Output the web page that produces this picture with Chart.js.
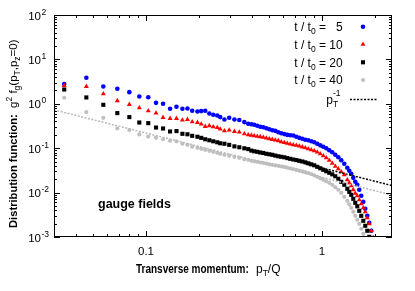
<!DOCTYPE html>
<html>
<head>
<meta charset="utf-8">
<script src="https://cdn.jsdelivr.net/npm/chart.js@4.4.1/dist/chart.umd.min.js"></script>
<style>
  html, body { margin: 0; padding: 0; background: #fff; }
  #wrap { width: 415px; height: 291px; }
</style>
</head>
<body>
<div id="wrap"><canvas id="dist-chart" width="415" height="291"></canvas></div>
<script>
// transverse momentum p_T/Q of the data points
const pT = [0.0343, 0.0458, 0.0572, 0.0687, 0.0804, 0.0916, 0.103, 0.114, 0.125, 0.137,
  0.149, 0.161, 0.172, 0.183, 0.196, 0.206, 0.217, 0.229, 0.241, 0.254,
  0.264, 0.279, 0.297, 0.318, 0.339, 0.362, 0.381,
  0.397, 0.412, 0.429, 0.446, 0.464, 0.483, 0.502, 0.522, 0.543, 0.565,
  0.587, 0.611, 0.635, 0.660, 0.687, 0.715, 0.743, 0.773, 0.804, 0.836,
  0.869, 0.904, 0.940, 0.978, 1.017, 1.058, 1.100, 1.144, 1.190, 1.238,
  1.287, 1.339, 1.393, 1.429, 1.467, 1.506, 1.546, 1.587, 1.629, 1.672,
  1.717, 1.762, 1.809, 1.857, 1.906, 1.956];

// g^2 f_g at t/t0 = 5, 10, 20, 40
const f5 = [2.78, 3.85, 2.45, 2.18, 1.83, 1.46, 1.40, 1.05, 1.00, 0.772,
  0.856, 0.772, 0.784, 0.696, 0.671, 0.685, 0.696, 0.605, 0.565, 0.545,
  0.502, 0.443, 0.484, 0.443, 0.430, 0.387, 0.354,
  0.345, 0.337, 0.320, 0.303, 0.296, 0.281, 0.267, 0.253, 0.246, 0.228,
  0.217, 0.208, 0.200, 0.195, 0.193, 0.181, 0.171, 0.163, 0.155, 0.151,
  0.143, 0.136, 0.126, 0.116, 0.108, 0.0995, 0.0897, 0.0809, 0.0710, 0.0624,
  0.0534, 0.0445, 0.0362, 0.0310, 0.0265, 0.0215, 0.0175, 0.0150, 0.0116, 0.00847,
  0.00621, 0.00432, 0.00300, 0.00209, 0.00138, 0.00096];

const f10 = [2.58, 2.45, 1.68, 1.17, 0.964, 0.813, 0.696, 0.617, 0.491, 0.467,
  0.467, 0.430, 0.443, 0.393, 0.379, 0.349, 0.308, 0.320, 0.303, 0.292,
  0.269, 0.246, 0.256, 0.238, 0.230, 0.211, 0.200,
  0.195, 0.190, 0.185, 0.181, 0.176, 0.169, 0.163, 0.157, 0.152, 0.147,
  0.139, 0.134, 0.129, 0.124, 0.119, 0.116, 0.1115, 0.1064, 0.102, 0.0969,
  0.0920, 0.0874, 0.0817, 0.0748, 0.0674, 0.0608, 0.0534, 0.0457, 0.0391, 0.0344,
  0.0294, 0.0252, 0.0194, 0.0166, 0.0142, 0.0116, 0.00964, 0.00847, 0.00689, 0.00560,
  0.00455, 0.00369, 0.00271, 0.00198, 0.00138, 0.00096];

const f20 = [2.10, 1.39, 0.949, 0.617, 0.502, 0.379, 0.367, 0.292, 0.278, 0.238,
  0.243, 0.211, 0.206, 0.190, 0.181, 0.171, 0.159, 0.151, 0.143, 0.136,
  0.129, 0.126, 0.119, 0.110, 0.105, 0.0995, 0.0954,
  0.0883, 0.0852, 0.0830, 0.0800, 0.0780, 0.0748, 0.0729, 0.0710, 0.0681, 0.0657,
  0.0640, 0.0624, 0.0598, 0.0577, 0.0556, 0.0540, 0.0520, 0.0502, 0.0481, 0.0457,
  0.0434, 0.0412, 0.0381, 0.0353, 0.0326, 0.0302, 0.0279, 0.0258, 0.0233, 0.0205,
  0.0175, 0.0150, 0.0122, 0.0104, 0.00892, 0.00725, 0.00589, 0.00491, 0.00389, 0.00300,
  0.00232, 0.00179, 0.00138, 0.00101, null, null];

const f40 = [1.37, 0.650, 0.484, 0.278, 0.256, 0.204, 0.183, 0.171, 0.159, 0.147,
  0.143, 0.126, 0.119, 0.108, 0.102, 0.0969, 0.0920, 0.0874, 0.0830, 0.0788,
  0.0748, 0.0710, 0.0674, 0.0640, 0.0608, 0.0562, 0.0548,
  0.0520, 0.0507, 0.0494, 0.0476, 0.0464, 0.0450, 0.0434, 0.0423, 0.0412, 0.0401,
  0.0391, 0.0381, 0.0367, 0.0353, 0.0340, 0.0326, 0.0315, 0.0302, 0.0289, 0.0275,
  0.0261, 0.0245, 0.0227, 0.0210, 0.0194, 0.0180, 0.0166, 0.0150, 0.0132, 0.0116,
  0.00990, 0.00804, 0.00654, 0.00545, 0.00455, 0.00369, 0.00300, 0.00244, 0.00198, 0.00153,
  0.00118, null, null, null, null, null];

// p_T^-1 guide lines (end points)
const guideGrayX = [0.03, 2.5];
const guideGrayY = [0.73, 0.0088];
const guideBlackX = [0.8, 2.5];
const guideBlackY = [0.045, 0.0144];

// axes
const xMajor = [0.1, 1];
const xLabels = ['0.1', '1'];
const xMinor = [0.03, 0.04, 0.05, 0.06, 0.07, 0.08, 0.09, 0.2, 0.3, 0.4, 0.5, 0.6, 0.7, 0.8, 0.9, 2];
const yMajor = [0.001, 0.01, 0.1, 1, 10, 100];
const yExp = ['-3', '-2', '-1', '0', '1', '2'];
const yMinor = [];
[0.001, 0.01, 0.1, 1, 10].forEach(d => [2, 3, 4, 5, 6, 7, 8, 9].forEach(m => yMinor.push(d * m)));

const legendVals = ['5', '10', '20', '40'];
const colors = ['#0000ff', '#ff0000', '#000000', '#c0c0c0'];
const styles = ['circle', 'triangle', 'rect', 'circle'];
const radii = [2.3, 2.9, 2.9, 2.1];

const FF = '"Liberation Sans", Arial, Helvetica, sans-serif';

function toPoints(xs, ys) {
  return xs.map((x, i) => ({ x: x, y: ys[i] }));
}

// draws a list of [text, size, bold, dy] pieces starting at x
function richText(ctx, parts, x, y, align, sx) {
  let w = 0;
  parts.forEach(p => {
    ctx.font = (p[2] ? 'bold ' : '') + p[1] + 'px ' + FF;
    p.w = ctx.measureText(p[0]).width;
    w += p.w;
  });
  ctx.save();
  ctx.translate(x, y);
  ctx.scale(sx || 1, 1);
  let cx = align === 'right' ? -w : align === 'center' ? -w / 2 : 0;
  parts.forEach(p => {
    ctx.font = (p[2] ? 'bold ' : '') + p[1] + 'px ' + FF;
    ctx.fillText(p[0], cx, p[3] || 0);
    cx += p.w;
  });
  ctx.restore();
  return w;
}

const gnuplotLook = {
  id: 'gnuplotLook',
  afterDraw(chart) {
    const { ctx, chartArea: a, scales } = chart;
    const xs = scales.x, ys = scales.y;
    ctx.save();
    ctx.strokeStyle = '#000';
    ctx.fillStyle = '#000';
    ctx.lineWidth = 1;
    ctx.setLineDash([]);

    // frame
    ctx.strokeRect(a.left + 0.5, a.top + 0.5, a.right - a.left - 1, a.bottom - a.top - 1);

    // inward ticks on all four sides
    ctx.beginPath();
    xs.ticks.forEach(t => {
      const px = Math.round(xs.getPixelForValue(t.value)) + 0.5;
      const len = xMajor.includes(t.value) ? 6 : 3;
      ctx.moveTo(px, a.bottom); ctx.lineTo(px, a.bottom - len);
      ctx.moveTo(px, a.top); ctx.lineTo(px, a.top + len);
    });
    ys.ticks.forEach(t => {
      const py = Math.round(ys.getPixelForValue(t.value)) + 0.5;
      const len = yMajor.includes(t.value) ? 6 : 3;
      ctx.moveTo(a.left, py); ctx.lineTo(a.left + len, py);
      ctx.moveTo(a.right, py); ctx.lineTo(a.right - len, py);
    });
    ctx.stroke();

    // tick labels
    ctx.textBaseline = 'alphabetic';
    ctx.textAlign = 'left';
    yMajor.forEach((v, i) => {
      const py = ys.getPixelForValue(v);
      richText(ctx, [['10', 11.5, false, 0]], 41, py + 4.5, 'right');
      richText(ctx, [[yExp[i], 8.5, false, 0]], 41.5, py - 0.5, 'left');
    });
    xMajor.forEach((v, i) => {
      const px = xs.getPixelForValue(v);
      richText(ctx, [[xLabels[i], 11.5, false, 0]], px, 254.5, 'center');
    });

    // axis titles
    richText(ctx, [['Transverse momentum:', 12.5, true, 0]], 136, 273, 'left', 0.8);
    richText(ctx, [['p', 12, false, 0], ['T', 8.5, false, 3], ['/Q', 12, false, 0]], 256, 273, 'left');

    ctx.save();
    ctx.translate(17, 228);
    ctx.rotate(-Math.PI / 2);
    richText(ctx, [['Distribution function:', 11.2, true, 0], ['  g', 11.5, false, 0], ['2', 8.5, false, -5],
      [' f', 11.5, false, 0], ['g', 8.5, false, 3], ['(p', 11.5, false, 0], ['T', 8.5, false, 3],
      [',p', 11.5, false, 0], ['z', 8.5, false, 3], ['=0)', 11.5, false, 0]], 0, 0, 'left');
    ctx.restore();

    // annotation
    richText(ctx, [['gauge fields', 12.5, true, 0]], 98, 208, 'left');

    // legend
    const rows = [26.7, 44.3, 62.3, 80];
    ctx.font = '12px ' + FF;
    const numW = ctx.measureText('10').width;
    legendVals.forEach((v, i) => {
      const yb = rows[i] + 4.3;
      richText(ctx, [['t / t', 12, false, 0], ['0', 8.5, false, 3], [' = ', 12, false, 0]], 342.7 - numW, yb, 'right');
      richText(ctx, [[v, 12, false, 0]], 342.7, yb, 'right');
      ctx.fillStyle = colors[i];
      Chart.helpers.drawPoint(ctx, { pointStyle: styles[i], radius: radii[i], rotation: 0, borderWidth: 0 }, 363, rows[i]);
      ctx.fillStyle = '#000';
    });
    richText(ctx, [['p', 12, false, 0]], 333, 104, 'right');
    richText(ctx, [['-1', 8.5, false, 0]], 333, 96, 'left');
    richText(ctx, [['T', 8.5, false, 0]], 333, 107, 'left');
    ctx.strokeStyle = '#000';
    ctx.lineWidth = 1.5;
    ctx.setLineDash([2, 1.5]);
    ctx.beginPath();
    ctx.moveTo(350, 99.5); ctx.lineTo(377, 99.5);
    ctx.stroke();
    ctx.restore();
  }
};

const ctx = document.getElementById('dist-chart').getContext('2d');
new Chart(ctx, {
  type: 'scatter',
  data: {
    datasets: [
      { type: 'line', showLine: true, data: toPoints(guideBlackX, guideBlackY), borderColor: '#000000',
        borderWidth: 1.5, borderDash: [2, 1.5], pointRadius: 0, fill: false, order: 0 },
      { type: 'line', showLine: true, data: toPoints(guideGrayX, guideGrayY), borderColor: '#b8b8b8',
        borderWidth: 1.5, borderDash: [2, 1.5], pointRadius: 0, fill: false, order: 1 },
      { data: toPoints(pT, f40), backgroundColor: colors[3], pointStyle: styles[3], pointRadius: radii[3], pointBorderWidth: 0, order: 2 },
      { data: toPoints(pT, f20), backgroundColor: colors[2], pointStyle: styles[2], pointRadius: radii[2], pointBorderWidth: 0, order: 3 },
      { data: toPoints(pT, f10), backgroundColor: colors[1], pointStyle: styles[1], pointRadius: radii[1], pointBorderWidth: 0, order: 4 },
      { data: toPoints(pT, f5), backgroundColor: colors[0], pointStyle: styles[0], pointRadius: radii[0], pointBorderWidth: 0, order: 5 }
    ]
  },
  options: {
    responsive: false,
    animation: false,
    devicePixelRatio: 1,
    layout: { padding: { top: 15, right: 23, left: 0, bottom: 0 } },
    plugins: { legend: { display: false }, tooltip: { enabled: false } },
    scales: {
      x: {
        type: 'logarithmic', min: 0.03, max: 2.5,
        grid: { display: false }, border: { display: false }, ticks: { display: false },
        afterBuildTicks: s => { s.ticks = xMajor.concat(xMinor).map(v => ({ value: v })); },
        afterFit: s => { s.height = 54; }
      },
      y: {
        type: 'logarithmic', min: 0.001, max: 100,
        grid: { display: false }, border: { display: false }, ticks: { display: false },
        afterBuildTicks: s => { s.ticks = yMajor.concat(yMinor).map(v => ({ value: v })); },
        afterFit: s => { s.width = 54; }
      }
    }
  },
  plugins: [gnuplotLook]
});
</script>
</body>
</html>
